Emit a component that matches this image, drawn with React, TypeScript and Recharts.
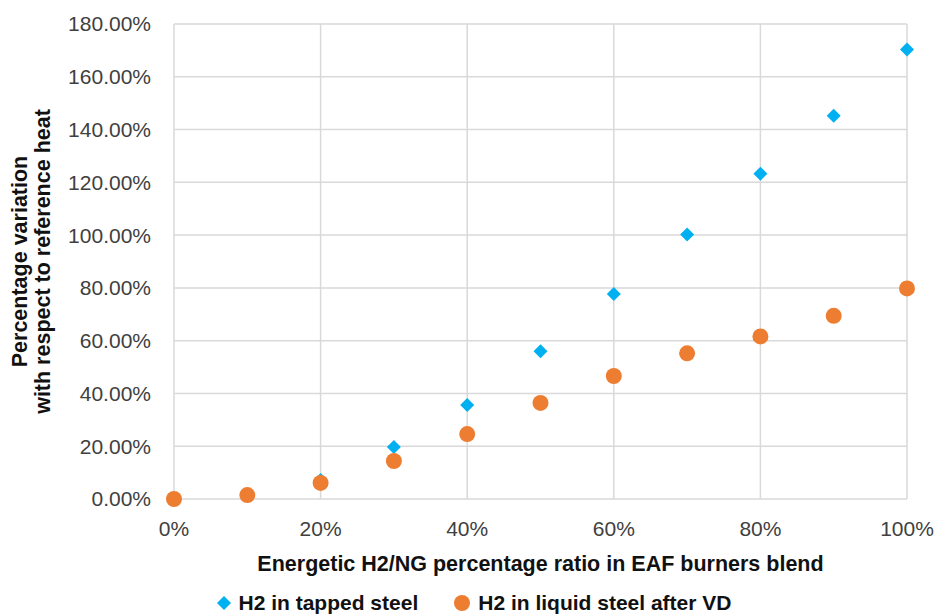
import { CartesianGrid, Legend, Scatter, ScatterChart, XAxis, YAxis } from "recharts";

const blendRatio = [0, 10, 20, 30, 40, 50, 60, 70, 80, 90, 100];
const tappedSteel = [0, 1.2, 7.2, 19.7, 35.6, 56, 77.7, 100.2, 123.3, 145.2, 170.3];
const afterVd = [0, 1.5, 6.1, 14.4, 24.6, 36.4, 46.6, 55.2, 61.6, 69.4, 79.8];
const xTicks = [0, 20, 40, 60, 80, 100];
const yTicks = [0, 20, 40, 60, 80, 100, 120, 140, 160, 180];

const BLUE = "#00B0F0";
const ORANGE = "#ED7D31";
const FONT = "'Liberation Sans', Arial, sans-serif";
const TICK = { fill: "#404040", fontSize: 21, fontFamily: FONT };
const TITLE = { fontSize: 21.5, fontWeight: 700, fontFamily: FONT, fill: "#111" };

const tappedData = blendRatio.map((x, i) => ({ x, y: tappedSteel[i] }));
const vdData = blendRatio.map((x, i) => ({ x, y: afterVd[i] }));

function Diamond(props: any) {
  const { cx, cy } = props;
  const r = 7;
  return <polygon points={`${cx},${cy - r} ${cx + r},${cy} ${cx},${cy + r} ${cx - r},${cy}`} fill={BLUE} />;
}

function Dot(props: any) {
  return <circle cx={props.cx} cy={props.cy} r={8} fill={ORANGE} />;
}

// two-line rotated y title, lines at fixed x from the chart's left edge
function YTitle(props: any) {
  const { viewBox } = props;
  const cy = viewBox.y + viewBox.height / 2;
  const x1 = viewBox.x + 20;
  const x2 = viewBox.x + 43;
  return (
    <g>
      <text x={x1} y={cy} transform={`rotate(-90 ${x1} ${cy})`} textAnchor="middle" dominantBaseline="central" style={TITLE}>
        Percentage variation
      </text>
      <text x={x2} y={cy} transform={`rotate(-90 ${x2} ${cy})`} textAnchor="middle" dominantBaseline="central" style={TITLE}>
        with respect to reference heat
      </text>
    </g>
  );
}

function LegendBox() {
  const item = { display: "flex", alignItems: "center", gap: 8 };
  return (
    <div style={{ display: "flex", justifyContent: "center", gap: 36, fontFamily: FONT, fontWeight: 700, fontSize: 21, color: "#111", paddingLeft: 12 }}>
      <span style={item}>
        <svg width="14" height="14"><polygon points="7,0 14,7 7,14 0,7" fill={BLUE} /></svg>
        H2 in tapped steel
      </span>
      <span style={item}>
        <svg width="16" height="16"><circle cx="8" cy="8" r="8" fill={ORANGE} /></svg>
        H2 in liquid steel after VD
      </span>
    </div>
  );
}

export default function App() {
  return (
    <div style={{ position: "absolute", left: 0, top: 0, width: 936, height: 615, background: "#fff" }}>
      <ScatterChart width={936} height={615} margin={{ top: 24, right: 29, bottom: 14, left: 0 }}>
        <CartesianGrid stroke="#d9d9d9" strokeWidth={1.5} />
        <XAxis
          type="number"
          dataKey="x"
          domain={[0, 100]}
          ticks={xTicks}
          tickFormatter={(v: number) => `${v}%`}
          axisLine={false}
          tickLine={false}
          tick={TICK}
          tickMargin={16}
          height={74}
          label={{
            value: "Energetic H2/NG percentage ratio in EAF burners blend",
            position: "insideBottom",
            offset: 2,
            style: TITLE,
          }}
        />
        <YAxis
          type="number"
          dataKey="y"
          domain={[0, 180]}
          ticks={yTicks}
          tickFormatter={(v: number) => `${v.toFixed(2)}%`}
          axisLine={false}
          tickLine={false}
          tick={TICK}
          tickMargin={17}
          width={174}
          label={{ content: YTitle }}
        />
        <Legend
          verticalAlign="bottom"
          height={36}
          content={LegendBox}
          wrapperStyle={{ top: 591, bottom: "auto", left: 0, width: 936, height: 28 }}
        />
        <Scatter name="H2 in tapped steel" data={tappedData} shape={Diamond} isAnimationActive={false} />
        <Scatter name="H2 in liquid steel after VD" data={vdData} shape={Dot} isAnimationActive={false} />
      </ScatterChart>
    </div>
  );
}
